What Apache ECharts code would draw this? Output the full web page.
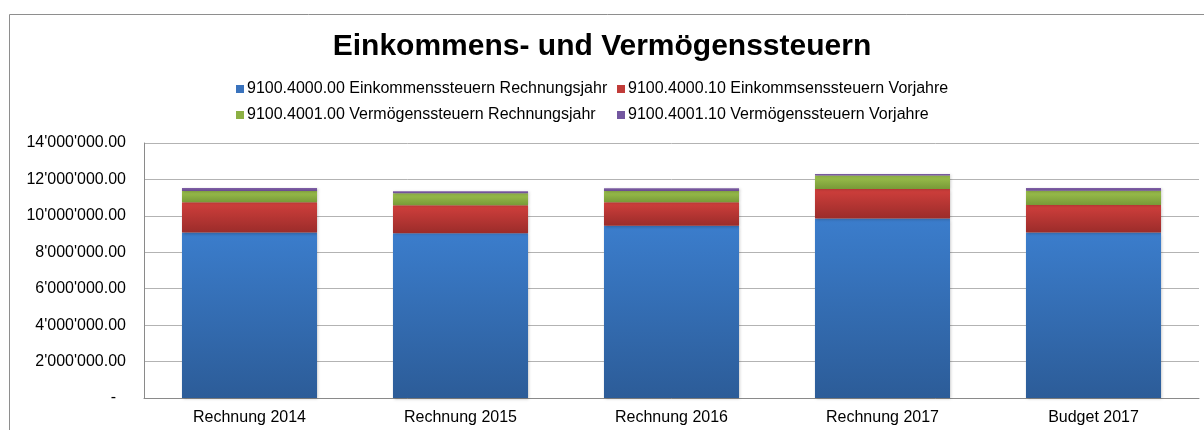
<!DOCTYPE html>
<html>
<head>
<meta charset="utf-8">
<script src="https://cdn.jsdelivr.net/npm/echarts@6/dist/echarts.min.js"></script>
<style>
  html, body { margin: 0; padding: 0; background: #fff; }
  #chart { width: 1204px; height: 430px; }
</style>
</head>
<body>
<div id="chart"></div>
<script>
const categories = ["Rechnung 2014", "Rechnung 2015", "Rechnung 2016", "Rechnung 2017", "Budget 2017"];
const seriesNames = [
  "9100.4000.00 Einkommenssteuern Rechnungsjahr",
  "9100.4000.10 Einkommsenssteuern Vorjahre",
  "9100.4001.00 Vermögenssteuern Rechnungsjahr",
  "9100.4001.10 Vermögenssteuern Vorjahre"
];
const einkommenRJ = [9080000, 9040000, 9460000, 9850000, 9080000];
const einkommenVJ = [1670000, 1540000, 1290000, 1630000, 1520000];
const vermoegenRJ = [620000, 660000, 620000, 730000, 780000];
const vermoegenVJ = [160000, 110000, 150000, 90000, 150000];

const chart = echarts.init(document.getElementById("chart"));

function grad(top, bottom) {
  return new echarts.graphic.LinearGradient(0, 0, 0, 1, [
    { offset: 0, color: top },
    { offset: 1, color: bottom }
  ]);
}

// 14'000'000.00 style, zero shown as a dash
function fmt(v) {
  if (v === 0) return "{d|-}";
  const parts = v.toFixed(2).split(".");
  return parts[0].replace(/\B(?=(\d{3})+(?!\d))/g, "'") + "." + parts[1];
}

const font = "Liberation Sans, Arial, Helvetica, sans-serif";
const colors = [
  grad("#3b7dcc", "#2c5c98"),
  grad("#d03f3c", "#9b2c2a"),
  grad("#9dc24d", "#789a38"),
  grad("#7f5fa6", "#6a4c90")
];
const iconColors = ["#3a73bd", "#c13c39", "#8cb043", "#7357a0"];
const data = [einkommenRJ, einkommenVJ, vermoegenRJ, vermoegenVJ];

const legendPos = [[236, 81], [617, 81], [236, 107], [617, 107]];

const options = {
  animation: false,
  textStyle: { fontFamily: font },
  title: {
    text: "Einkommens- und Vermögenssteuern",
    left: "center",
    top: 27,
    textStyle: { fontSize: 30, fontWeight: "bold", color: "#000", fontFamily: font }
  },
  legend: legendPos.map((p, i) => ({
    data: [{ name: seriesNames[i], itemStyle: { color: iconColors[i] } }],
    left: p[0],
    top: p[1],
    padding: 0,
    itemWidth: 8,
    itemHeight: 8,
    itemGap: 0,
    icon: "rect",
    textStyle: { fontSize: 16, color: "#000", padding: [0, 0, 0, -2], fontFamily: font }
  })),
  graphic: [{
    type: "rect",
    shape: { x: 9.5, y: 14.5, width: 1300, height: 500 },
    style: { fill: "none", stroke: "#8e8e8e", lineWidth: 1 },
    silent: true,
    z: -1
  }],
  grid: { left: 144, right: 5, top: 143, bottom: 32 },
  xAxis: {
    type: "category",
    data: categories,
    axisLine: { lineStyle: { color: "#8a8a8a" } },
    axisTick: { show: false },
    axisLabel: { fontSize: 16, color: "#000", margin: 12, fontFamily: font }
  },
  yAxis: {
    type: "value",
    min: 0,
    max: 14000000,
    interval: 2000000,
    axisLine: { show: true, lineStyle: { color: "#8a8a8a" } },
    axisTick: { show: false },
    splitLine: { lineStyle: { color: "#b3b3b3" } },
    axisLabel: {
      fontSize: 16,
      color: "#000",
      margin: 18,
      fontFamily: font,
      formatter: fmt,
      rich: { d: { fontSize: 16, padding: [0, 10, 0, 0] } }
    }
  },
  series: data.map((d, i) => ({
    name: seriesNames[i],
    type: "bar",
    stack: "total",
    barWidth: "64%",
    data: d,
    itemStyle: {
      color: colors[i],
      shadowColor: "rgba(0,0,0,0.25)",
      shadowBlur: 3,
      shadowOffsetX: 1,
      shadowOffsetY: 1
    }
  }))
};

chart.setOption(options);
</script>
</body>
</html>
